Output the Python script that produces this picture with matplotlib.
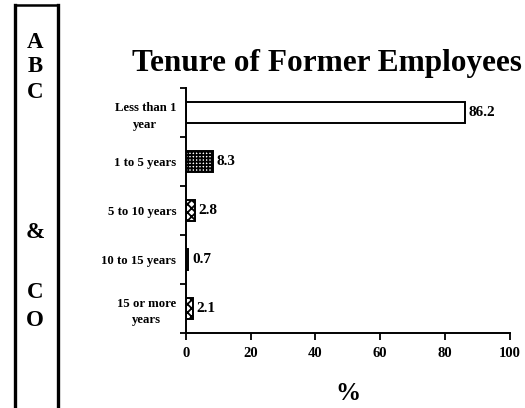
import matplotlib
matplotlib.use("Agg")
import matplotlib.pyplot as plt
import numpy as np
from matplotlib.lines import Line2D

categories = ["Less than 1\nyear", "1 to 5 years", "5 to 10 years", "10 to 15 years", "15 or more\nyears"]
values = [86.2, 8.3, 2.8, 0.7, 2.1]
xticks = [0, 20, 40, 60, 80, 100]
side_letters = ["A", "B", "C", "&", "C", "O"]

plt.rcParams['font.family'] = ['Liberation Serif', 'DejaVu Serif']
plt.rcParams['font.weight'] = 'bold'
plt.rcParams['hatch.linewidth'] = 1.3

fig = plt.figure(figsize=(5.25, 4.08), dpi=100)
ax = fig.add_axes([0.354, 0.184, 0.617, 0.600])

y = np.arange(len(categories))
hatches = [None, "+++++", "xxxx", "||||", "xxxx"]
for i, (v, h) in enumerate(zip(values, hatches)):
    ax.barh(y[i], v, height=0.44, color="white", edgecolor="black", linewidth=1.4, hatch=h)
    ax.text(v + 1.2, y[i], f"{v}", va="center", ha="left", fontsize=11, fontweight="bold")

ax.set_xlim(0, 100)
ax.set_ylim(len(categories) - 0.5, -0.5)
ax.set_yticks(y)
labels = ax.set_yticklabels(categories, fontsize=9.2, fontweight="bold", ha="right", multialignment="center")
for t in labels:
    t.set_linespacing(1.5)
ax.tick_params(axis="y", which="major", length=0, pad=7)
ax.set_yticks(np.arange(-0.5, len(categories), 1.0), minor=True)
ax.tick_params(axis="y", which="minor", length=4, width=1.3, direction="out")
ax.set_xticks(xticks)
ax.set_xticklabels([str(t) for t in xticks], fontsize=10.5, fontweight="bold")
ax.tick_params(axis="x", length=5, width=1.3, direction="out", pad=5)
ax.set_xlabel("%", fontsize=18, fontweight="bold", labelpad=16)

for s in ["top", "right"]:
    ax.spines[s].set_visible(False)
for s in ["left", "bottom"]:
    ax.spines[s].set_linewidth(1.4)

fig.text(0.622, 0.845, "Tenure of Former Employees", ha="center", va="center",
         fontsize=22.5, fontweight="bold")

# left side box
fig.add_artist(Line2D([15/525, 15/525], [0, 1 - 5/408], color="black", lw=2.4, transform=fig.transFigure))
fig.add_artist(Line2D([58/525, 58/525], [0, 1 - 5/408], color="black", lw=2.4, transform=fig.transFigure))
fig.add_artist(Line2D([15/525, 58/525], [1 - 5/408, 1 - 5/408], color="black", lw=1.8, transform=fig.transFigure))
letter_y = [42, 67, 92, 232, 292, 320]
for L, yy in zip(side_letters, letter_y):
    fig.text(35/525, 1 - yy/408, L, ha="center", va="center", fontsize=16.5, fontweight="bold")

fig.savefig("out.png", dpi=100)
